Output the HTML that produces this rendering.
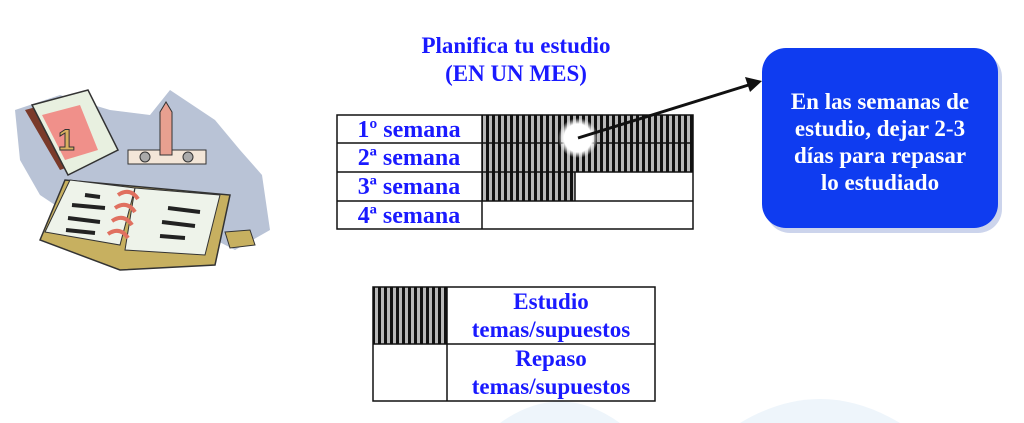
<!DOCTYPE html>
<html><head><meta charset="utf-8"><style>
html,body{margin:0;padding:0;background:#fff;overflow:hidden;width:1024px;height:423px;}
svg{display:block;}
</style></head><body>
<svg width="1024" height="423" viewBox="0 0 1024 423" xmlns="http://www.w3.org/2000/svg">
<defs>
<pattern id="h" width="6" height="10" patternUnits="userSpaceOnUse">
<rect width="6" height="10" fill="#b8b8b8"/><rect width="3" height="10" fill="#111"/>
</pattern>
<radialGradient id="wg"><stop offset="0.7" stop-color="#fff"/><stop offset="1" stop-color="#fff" stop-opacity="0"/></radialGradient>
</defs>
<path d="M500 423 Q560 380 620 423 Z" fill="#eef5fb"/>
<path d="M740 423 Q820 375 900 423 Z" fill="#eef5fb"/>
<!-- clipart -->
<path d="M15 110 L60 95 L110 110 L150 115 L170 90 L215 120 L240 150 L262 175 L270 230 L235 250 L200 232 L160 240 L120 220 L70 215 L40 195 L20 160 Z" fill="#b9c3d6"/>
<path d="M25 110 L80 95 L115 150 L60 170 Z" fill="#7a3a2a"/>
<path d="M32 105 L88 90 L118 150 L68 175 Z" fill="#e8f0e0" stroke="#333" stroke-width="1.5"/>
<path d="M42 115 L80 105 L98 150 L65 160 Z" fill="#f0908a"/>
<text x="58" y="150" font-family="Liberation Sans,sans-serif" font-weight="bold" font-size="30" fill="#d9b060" stroke="#333" stroke-width="1">1</text>
<rect x="128" y="150" width="78" height="14" fill="#f3e6d8" stroke="#333"/>
<circle cx="145" cy="157" r="5" fill="#aaa" stroke="#333"/><circle cx="188" cy="157" r="5" fill="#aaa" stroke="#333"/>
<path d="M160 155 L160 112 L166 102 L172 112 L172 155 Z" fill="#e8a090" stroke="#333"/>
<path d="M40 240 L65 180 L230 195 L215 265 L120 270 Z" fill="#c7b060" stroke="#333" stroke-width="1.5"/>
<path d="M45 232 L70 180 L135 188 L120 245 Z" fill="#eef3ea" stroke="#333"/>
<path d="M135 188 L220 195 L205 255 L125 250 Z" fill="#eef3ea" stroke="#333"/>
<path d="M225 232 L250 230 L255 245 L230 248 Z" fill="#c7b060" stroke="#333"/>
<g stroke="#222" stroke-width="4"><line x1="85" y1="195" x2="100" y2="197"/><line x1="72" y1="205" x2="105" y2="208"/><line x1="68" y1="218" x2="100" y2="222"/><line x1="66" y1="230" x2="95" y2="233"/><line x1="168" y1="208" x2="200" y2="212"/><line x1="162" y1="222" x2="195" y2="226"/><line x1="160" y1="236" x2="185" y2="238"/></g>
<g stroke="#e07060" stroke-width="4" fill="none"><path d="M118 195 q12 -8 20 4"/><path d="M115 208 q12 -8 20 4"/><path d="M112 221 q12 -8 20 4"/><path d="M108 234 q12 -8 20 4"/></g>
<!-- title -->
<g font-family="Liberation Serif,serif" font-weight="bold" font-size="23" fill="#1a1aff" text-anchor="middle">
<text x="516" y="53">Planifica tu estudio</text>
<text x="516" y="81">(EN UN MES)</text>
</g>
<!-- table -->
<rect x="482" y="115" width="211" height="57" fill="url(#h)"/>
<rect x="482" y="172" width="93" height="29" fill="url(#h)"/>
<g stroke="#111" stroke-width="1.5" fill="none">
<rect x="337" y="115" width="356" height="114"/>
<line x1="337" y1="143" x2="693" y2="143"/><line x1="337" y1="172" x2="693" y2="172"/><line x1="337" y1="201" x2="693" y2="201"/>
<line x1="482" y1="115" x2="482" y2="229"/><line x1="575" y1="172" x2="575" y2="201"/>
</g>
<g font-family="Liberation Serif,serif" font-weight="bold" font-size="24" fill="#1a1aff" text-anchor="middle">
<text x="409" y="137">1º semana</text>
<text x="409" y="165">2ª semana</text>
<text x="409" y="194">3ª semana</text>
<text x="409" y="223">4ª semana</text>
</g>
<circle cx="578" cy="138" r="20" fill="url(#wg)"/>
<line x1="578" y1="138" x2="755" y2="83" stroke="#111" stroke-width="3"/>
<path d="M762 81 L745 77 L750 92 Z" fill="#111"/>
<!-- blue box -->
<rect x="764" y="50" width="236" height="180" rx="24" fill="#6d84c8" opacity="0.35" transform="translate(2,3)"/>
<rect x="762" y="48" width="236" height="180" rx="24" fill="#0f3cf0"/>
<g font-family="Liberation Serif,serif" font-weight="bold" font-size="23" fill="#fff" text-anchor="middle">
<text x="880" y="109">En las semanas de</text>
<text x="880" y="136">estudio, dejar 2-3</text>
<text x="880" y="163">días para repasar</text>
<text x="880" y="190">lo estudiado</text>
</g>
<!-- legend -->
<rect x="373" y="287" width="74" height="57" fill="url(#h)"/>
<g stroke="#111" stroke-width="1.5" fill="none">
<rect x="373" y="287" width="282" height="114"/>
<line x1="373" y1="344" x2="655" y2="344"/><line x1="447" y1="287" x2="447" y2="401"/>
</g>
<g font-family="Liberation Serif,serif" font-weight="bold" font-size="23" fill="#1a1aff" text-anchor="middle">
<text x="551" y="309">Estudio</text>
<text x="551" y="337">temas/supuestos</text>
<text x="551" y="366">Repaso</text>
<text x="551" y="394">temas/supuestos</text>
</g>
</svg>
</body></html>
